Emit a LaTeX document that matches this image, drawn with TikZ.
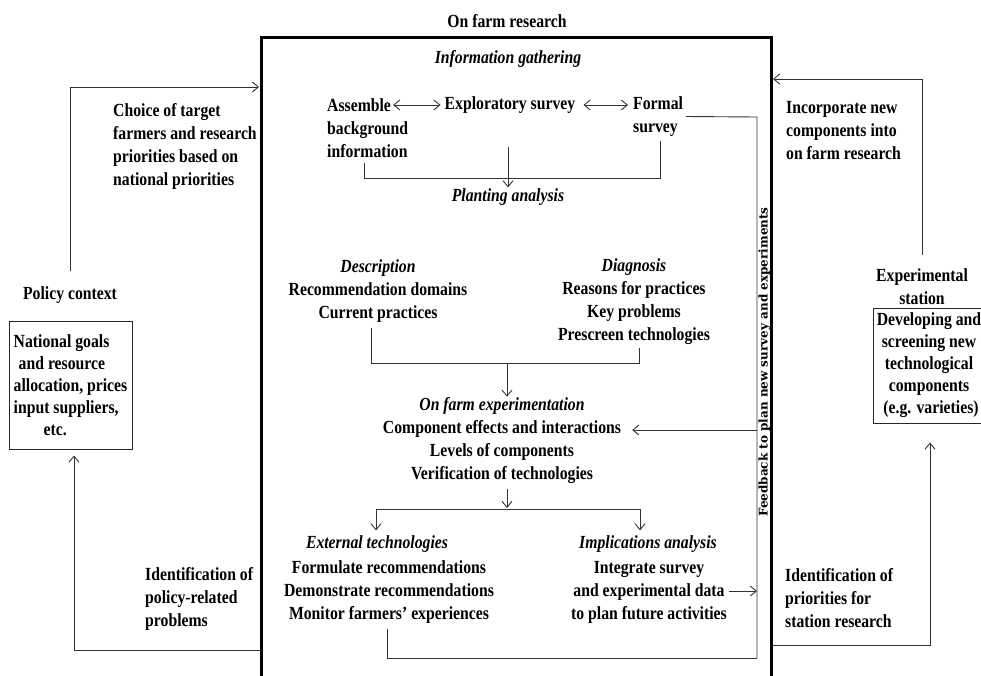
\documentclass[tikz,border=0pt]{standalone}
\usepackage{fontspec}
\setmainfont{Liberation Serif}[FakeStretch=0.85]
\newfontfamily\fbfont{DejaVu Serif}
\usetikzlibrary{arrows.meta,calc}
\begin{document}
\begin{tikzpicture}[x=1pt,y=-1pt,
  txt/.style={inner sep=0pt, font=\fontsize{18.5}{23}\selectfont\bfseries, align=center},
  ttl/.style={inner sep=0pt, font=\fontsize{18.5}{23}\selectfont\bfseries\itshape, align=center},
  conn/.style={draw=black!80, line width=0.9pt},
  arr/.style={conn, -{Straight Barb[length=6pt,width=10pt]}},
  darr/.style={conn, {Straight Barb[length=6pt,width=10pt]}-{Straight Barb[length=6pt,width=10pt]}},
  boxnode/.style={inner sep=0pt, font=\fontsize{18.5}{22}\selectfont\bfseries, draw=black!85, line width=1pt}
]
\useasboundingbox (0,0) rectangle (981,675);
\clip (0,0) rectangle (981,675);
\fill[white] (0,0) rectangle (981,675);

% main frame
\coordinate (mTL) at (261,37);
\coordinate (mTR) at (771,37);
\draw[line width=3pt] (261,690) -- (mTL) -- (mTR) -- (771,690);

% title and information gathering
\node[txt] (title) at (507,21) {On farm research};
\node[ttl] (info) at (508,59) {Information gathering};
\node[txt, anchor=west] (asmA) at (327,105) {Assemble};
\node[txt, anchor=west, align=left] (asmB) at (327,139.5) {background\\information};
\node[txt] (explor) at (510,105) {Exploratory survey};
\node[txt, anchor=west, align=left] (formal) at (633,116.5) {Formal\\survey};
\draw[darr, shorten <=2pt, shorten >=4pt] (asmA.east) -- (explor.west);
\draw[darr, shorten <=8pt, shorten >=5pt] (explor.east) -- (explor.east -| formal.west);

% feedback line
\coordinate (fbT) at (757,117);
\coordinate (fbB) at (757,658);
\coordinate (fbC) at (757,430);
\coordinate (fbA) at (757,591);
\draw[conn] ([xshift=3pt]formal.east) -- (fbT) -- (fbB);
\node[rotate=90, inner sep=0pt, font=\fbfont\bfseries\fontsize{12}{14}\selectfont] (fbtext) at (764.5,362) {Feedback to plan new survey and experiments};

% planting analysis
\node[ttl] (plant) at (508,197) {Planting analysis};
\coordinate (br1) at (0,178);
\coordinate (pa) at (508,147);
\coordinate (aS) at ($(asmB.south)+(-3,5)$);
\coordinate (fS) at ($(formal.south)+(2,4)$);
\draw[conn] (aS) -- (aS |- br1) -- (fS |- br1) -- (fS);
\draw[arr, shorten >=1pt] (pa) -- (pa |- plant.north);

% description / diagnosis
\node[txt] (desc) at (378,291) {\textit{Description}\\Recommendation domains\\Current practices};
\node[txt] (diag) at (634,302) {\textit{Diagnosis}\\Reasons for practices\\Key problems\\Prescreen technologies};
\coordinate (br2) at (0,363);
\coordinate (dS) at ($(desc.south)+(-7,5)$);
\coordinate (gS) at ($(diag.south)+(5,3)$);
\draw[conn] (dS) -- (dS |- br2) -- (gS |- br2) -- (gS);
\coordinate (oe) at (507,363);

% on farm experimentation
\node[txt] (onfarm) at (502,441) {\textit{On farm experimentation}\\Component effects and interactions\\Levels of components\\Verification of technologies};
\draw[arr, shorten >=1pt] (oe) -- (oe |- onfarm.north);
\draw[arr, shorten >=11pt] (fbC) -- (onfarm.east |- fbC);

% split
\coordinate (sx) at (507,508);
\coordinate (spL) at (376,509);
\coordinate (spR) at (640,509);
\draw[arr, shorten <=5pt] (sx |- onfarm.south) -- (sx);
\draw[conn] (spL) -- (spR);

\node[ttl] (extT) at (377,544) {External technologies};
\node[txt] (extB) at (389,592) {Formulate recommendations\\Demonstrate recommendations\\Monitor farmers’ experiences};
\node[ttl] (impT) at (648,544) {Implications analysis};
\node[txt] (impB) at (649,592) {Integrate survey\\and experimental data\\to plan future activities};
\draw[arr, shorten >=5pt] (spL) -- (spL |- extT.north);
\draw[arr, shorten >=5pt] (spR) -- (spR |- impT.north);
\draw[arr, shorten <=2pt] (impB.east |- fbA) -- (fbA);
\coordinate (eS) at ($(extB.south)+(-2,5)$);
\draw[conn] (eS) -- (eS |- fbB) -- (fbB);

% left side
\node[txt, anchor=west, align=left] (choice) at (113,146.5) {Choice of target\\farmers and research\\priorities based on\\national priorities};
\node[txt] (policy) at (70,295) {Policy context};
\node[boxnode, align=left, minimum width=123pt, minimum height=128pt] (nat) at (70.5,385) {National goals\\\hspace*{5pt}and resource\\allocation, prices\\input suppliers,\\\hspace*{30pt}etc.};
\coordinate (lc) at (70,87);
\coordinate (mL) at (259,87);
\draw[arr, shorten <=15pt] (policy.north) -- (policy.north |- lc) -- (mL);
\node[txt, anchor=west, align=left] (idp) at (145,599) {Identification of\\policy-related\\problems};
\coordinate (lb) at (74,650);
\coordinate (mLb) at (261,650);
\draw[arr, shorten >=6pt] (mLb) -- (lb) -- (lb |- nat.south);

% right side
\node[txt, anchor=west, align=left] (incorp) at (786,131) {Incorporate new\\components into\\on farm research};
\node[txt] (expst) at (922,287) {Experimental\\station};
\node[boxnode, align=center, minimum width=112pt, minimum height=115pt] (dev) at (929,365.5) {Developing and\\screening new\\technological\\components\\\hspace*{4pt}(e.g. varieties)};
\coordinate (rt) at (923,79);
\coordinate (mR) at (773,79);
\draw[arr, shorten <=14pt] (expst.north) -- (expst.north |- rt) -- (mR);
\node[txt, anchor=west, align=left] (idr) at (785,598) {Identification of\\priorities for\\station research};
\coordinate (rb) at (930,645);
\coordinate (mRb) at (773,645);
\draw[arr, shorten >=19pt] (mRb) -- (rb) -- (rb |- dev.south);
\end{tikzpicture}
\end{document}
